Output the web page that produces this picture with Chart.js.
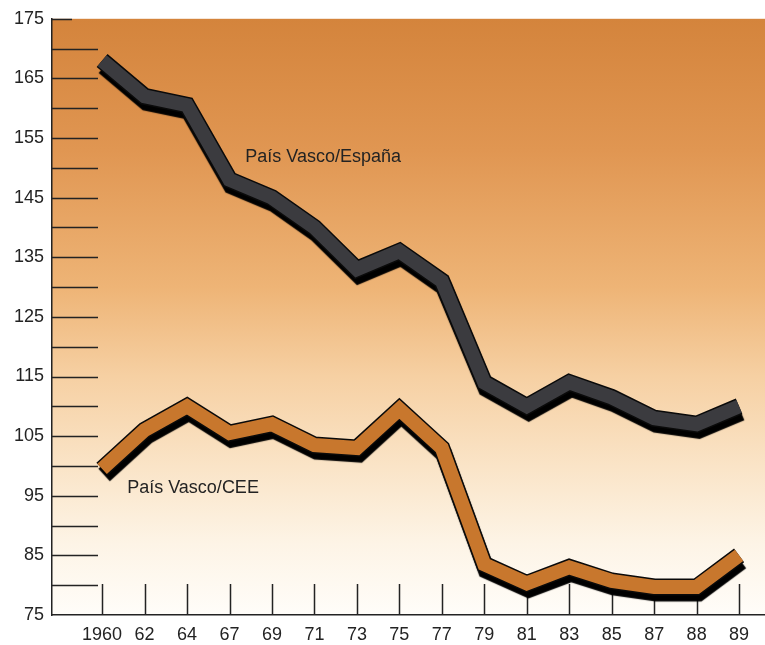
<!DOCTYPE html>
<html lang="es">
<head>
  <meta charset="UTF-8">
  <title>País Vasco / España / CEE</title>
  <script src="https://cdn.jsdelivr.net/npm/chart.js"></script>
  <style>
    body { margin: 0; background: #fff; }
    canvas { display: block; }
  </style>
</head>
<body>
  <canvas id="chart" width="765" height="645"></canvas>

  <script>
    // data
    const years = ['1960', '62', '64', '67', '69', '71', '73', '75', '77', '79', '81', '83', '85', '87', '88', '89'];
    const vascoEspana = [168, 162, 160.5, 148, 145, 140, 133, 136, 131, 114, 110, 114, 111.5, 108, 107, 110];
    const vascoCee = [99.5, 106, 110, 105.5, 107, 103.5, 103, 109.5, 103, 83.5, 80.3, 83, 80.7, 79.7, 79.7, 85];
    const yTicks = { min: 75, max: 175, step: 5 };

    // series names written on the chart, anchored in data units (x index, y value)
    const seriesLabels = [
      { text: 'País Vasco/España', x: 3.37, y: 151 },
      { text: 'País Vasco/CEE', x: 0.59, y: 95.5 }
    ];

    const FONT = "'Liberation Sans', Arial, sans-serif";
    const INK = '#232323';

    const paperPlugin = {
      id: 'paper',
      beforeDraw(chart) {
        const { ctx, chartArea: a } = chart;
        const g = ctx.createLinearGradient(0, a.top, 0, a.bottom);
        g.addColorStop(0, '#d4843c');
        g.addColorStop(0.22, '#e09652');
        g.addColorStop(0.45, '#eeb476');
        g.addColorStop(0.6, '#f6d0a3');
        g.addColorStop(0.75, '#fae4c7');
        g.addColorStop(0.88, '#fdf4e6');
        g.addColorStop(1, '#fffdf9');
        ctx.save();
        ctx.fillStyle = g;
        ctx.fillRect(a.left, a.top, a.right - a.left, a.bottom - a.top);
        ctx.restore();
      },
      beforeDatasetsDraw(chart) {
        // tick marks drawn inward from the axes
        const { ctx, chartArea: a, scales: { x, y } } = chart;
        ctx.save();
        ctx.strokeStyle = INK;
        ctx.lineWidth = 1.5;
        ctx.beginPath();
        y.ticks.forEach(t => {
          if (t.value === yTicks.min) return;
          const py = Math.round(y.getPixelForValue(t.value)) + 0.5;
          const len = t.value === yTicks.max ? 20 : 46;
          ctx.moveTo(a.left, py);
          ctx.lineTo(a.left + len, py);
        });
        years.forEach((_, i) => {
          const px = Math.round(x.getPixelForValue(i)) + 0.5;
          ctx.moveTo(px, a.bottom);
          ctx.lineTo(px, a.bottom - 31);
        });
        ctx.stroke();
        ctx.restore();
      },
      beforeDatasetDraw(chart, args) {
        const ds = chart.data.datasets[args.index];
        const { ctx } = chart;
        ctx.save();
        if (ds.shadow) {
          ctx.shadowColor = '#000';
          ctx.shadowBlur = 1;
          ctx.shadowOffsetX = 2;
          ctx.shadowOffsetY = 6;
        }
      },
      afterDatasetDraw(chart) {
        chart.ctx.restore();
      },
      afterDatasetsDraw(chart) {
        const { ctx, scales: { x, y } } = chart;
        ctx.save();
        ctx.fillStyle = INK;
        ctx.font = '18px ' + FONT;
        ctx.textBaseline = 'alphabetic';
        ctx.textAlign = 'left';
        seriesLabels.forEach(l => {
          ctx.fillText(l.text, x.getPixelForValue(l.x), y.getPixelForValue(l.y));
        });
        ctx.restore();
      }
    };

    const ribbon = (data, face, order) => [
      {
        data, borderColor: '#0a0a0a', borderWidth: 17, shadow: true, order: order + 1,
        pointRadius: 0, tension: 0, borderJoinStyle: 'miter', borderCapStyle: 'butt'
      },
      {
        data, borderColor: face, borderWidth: 14, order: order,
        pointRadius: 0, tension: 0, borderJoinStyle: 'miter', borderCapStyle: 'butt'
      }
    ];

    const toPoints = arr => arr.map((v, i) => ({ x: i, y: v }));

    new Chart(document.getElementById('chart'), {
      type: 'line',
      data: {
        datasets: [
          ...ribbon(toPoints(vascoEspana), '#3b3b3f', 1),
          ...ribbon(toPoints(vascoCee), '#c8772d', 1)
        ]
      },
      options: {
        responsive: false,
        animation: false,
        layout: { padding: { top: 16, right: 0, left: 0, bottom: 0 } },
        plugins: { legend: { display: false }, tooltip: { enabled: false } },
        scales: {
          x: {
            type: 'linear',
            min: -1.18,
            max: 15.61,
            afterBuildTicks: s => { s.ticks = years.map((_, i) => ({ value: i })); },
            afterFit: s => { s.height = 30; },
            grid: { drawOnChartArea: false, drawTicks: false },
            border: { color: INK, width: 1.5 },
            ticks: {
              autoSkip: false,
              maxRotation: 0,
              padding: 9,
              color: INK,
              font: { family: FONT, size: 18 },
              callback: v => years[v]
            }
          },
          y: {
            min: yTicks.min,
            max: yTicks.max,
            afterFit: s => { s.width = 52; },
            grid: { drawOnChartArea: false, drawTicks: false },
            border: { color: INK, width: 1.5 },
            ticks: {
              stepSize: yTicks.step,
              autoSkip: false,
              padding: 8,
              color: INK,
              font: { family: FONT, size: 18 },
              callback: v => ((v - yTicks.min) % 10 === 0 ? v : '')
            }
          }
        }
      },
      plugins: [paperPlugin]
    });
  </script>
</body>
</html>
